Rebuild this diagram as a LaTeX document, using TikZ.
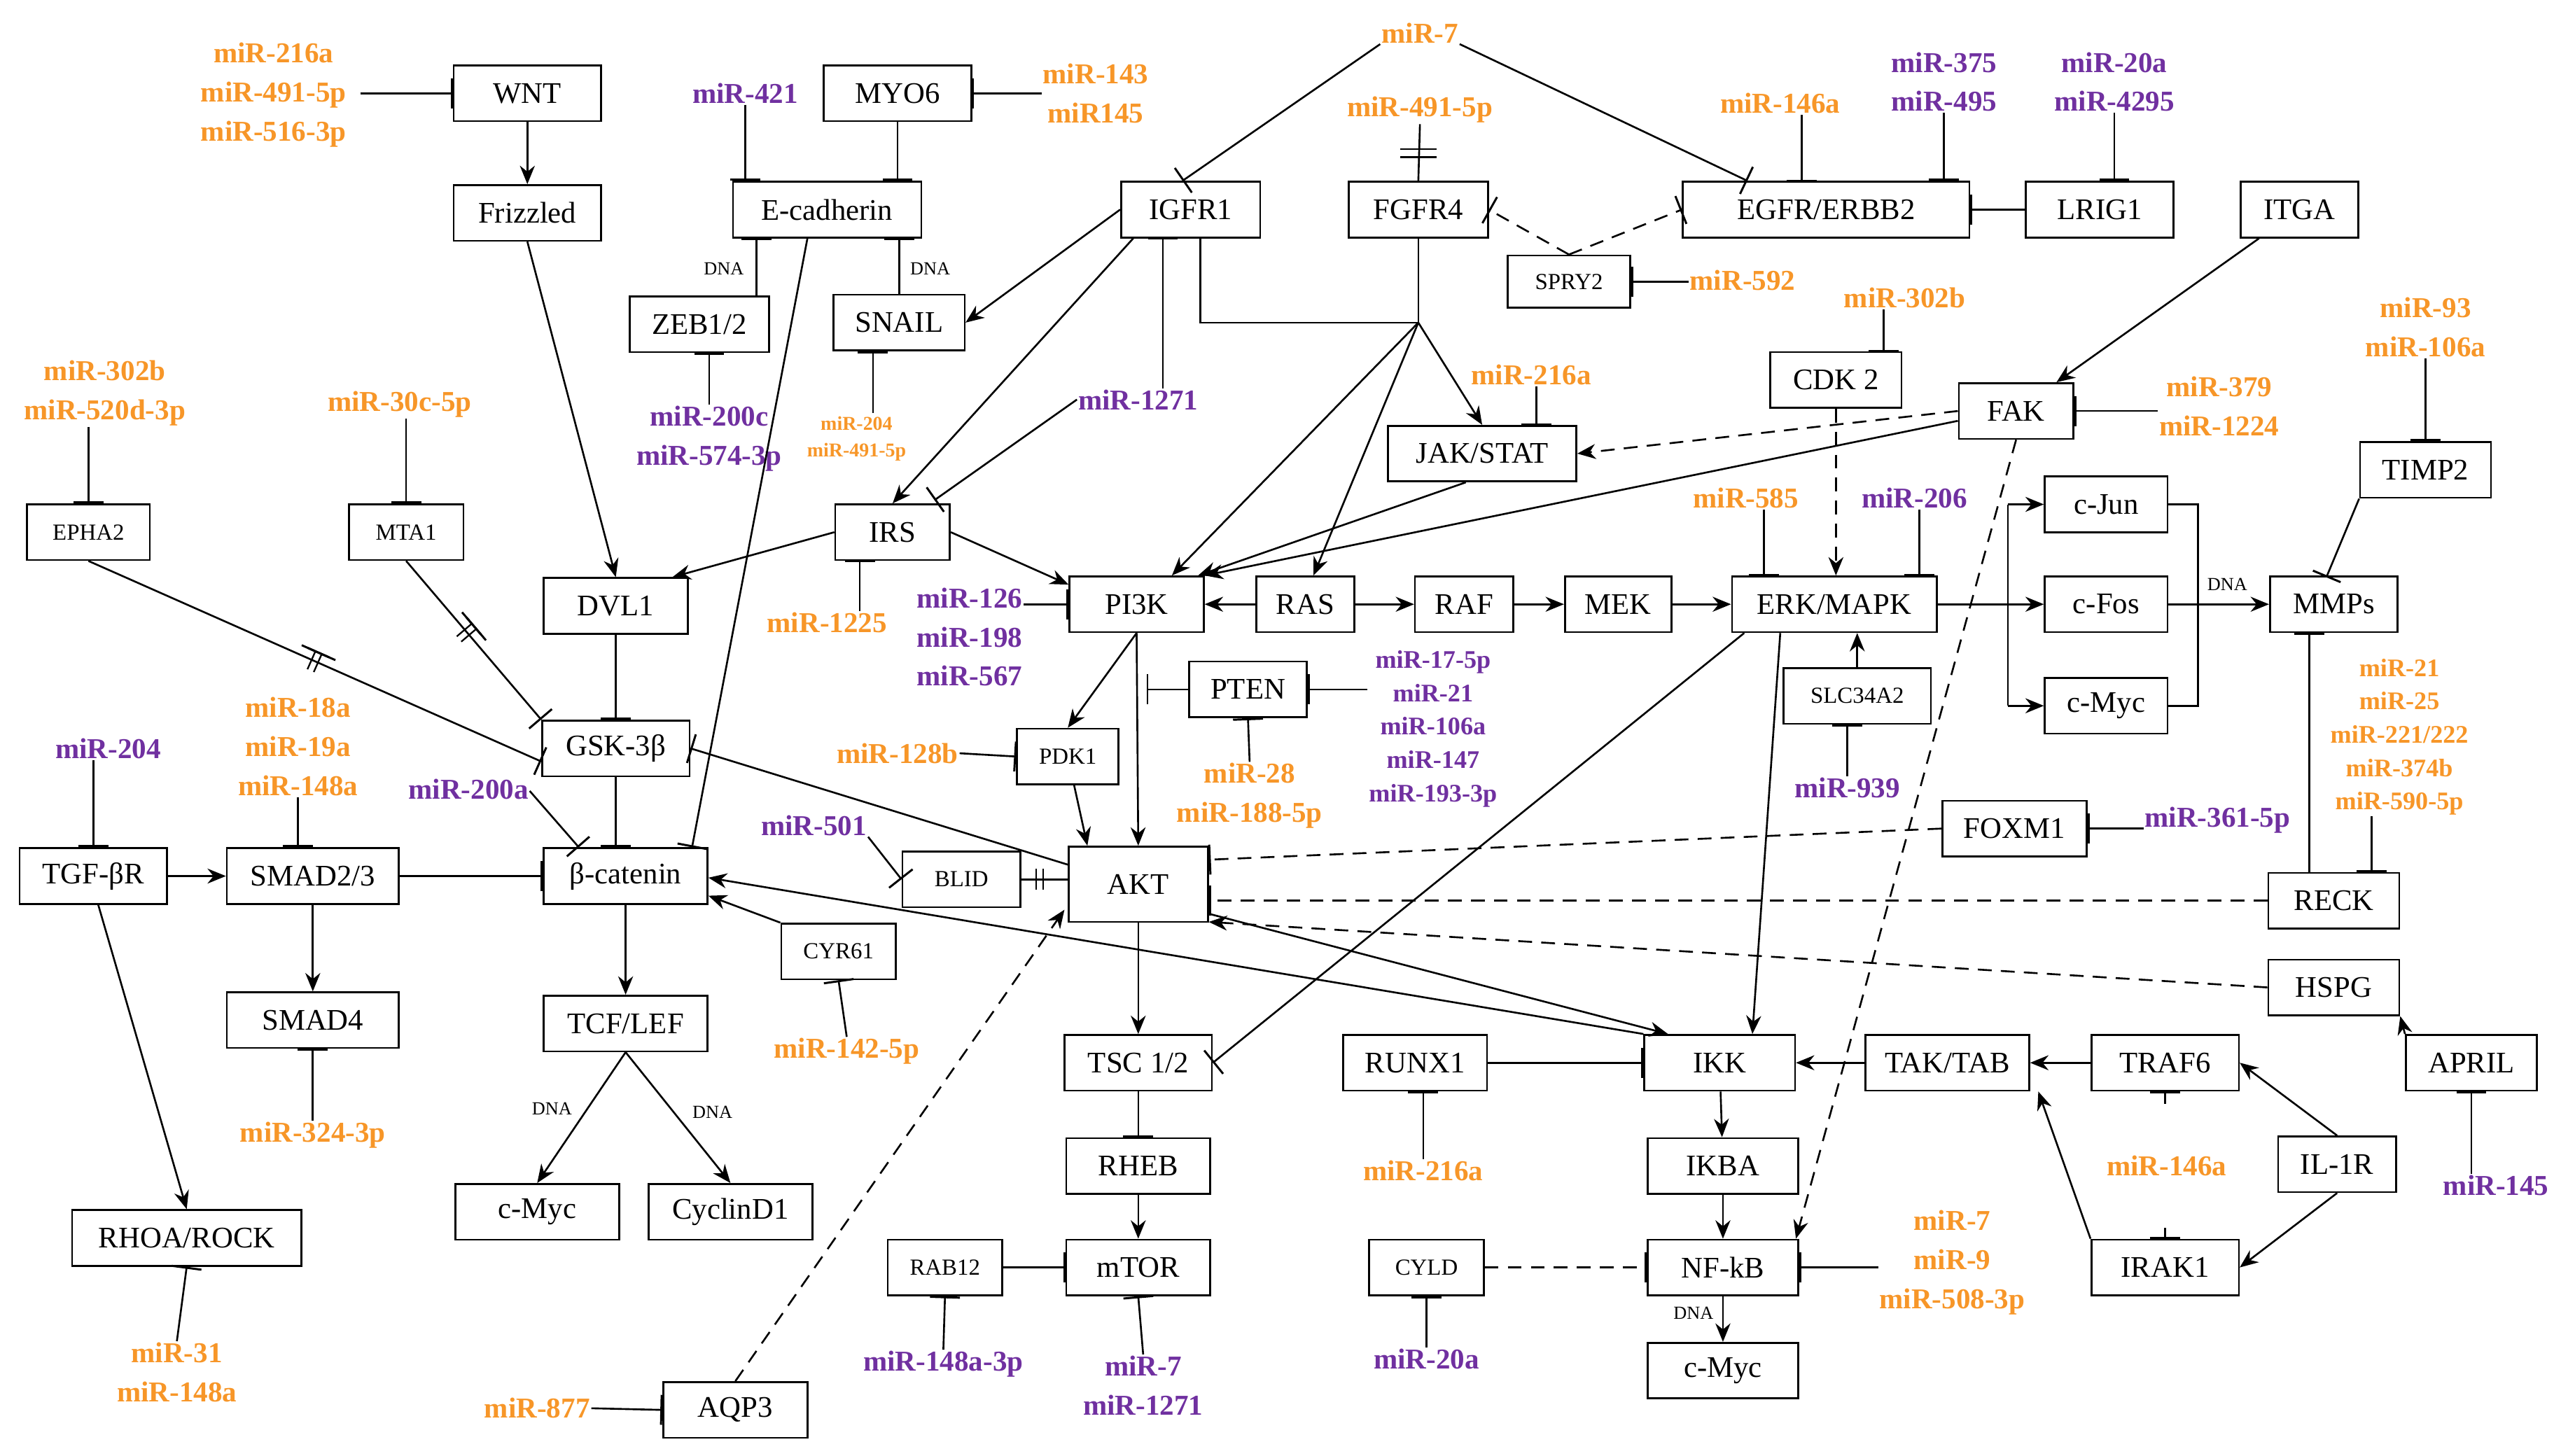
\documentclass[tikz,border=0pt]{standalone}
\usepackage{fontspec}
\setmainfont{Liberation Serif}
\usetikzlibrary{arrows.meta,calc,decorations.markings}
\definecolor{mirO}{RGB}{247,150,40}
\definecolor{mirP}{RGB}{112,48,160}
\tikzset{
 box/.style={draw, line width=1.6pt, fill=white, minimum height=1.7cm, inner sep=2pt, font=\fontsize{26}{30}\selectfont},
 sbox/.style={box, font=\fontsize{20}{24}\selectfont},
 w/.style={minimum width=#1*0.05cm},
 mo/.style={text=mirO, font=\bfseries\fontsize{25}{34}\selectfont, align=center, inner sep=1pt},
 mp/.style={mo, text=mirP},
 sm/.style={font=\bfseries\fontsize{22}{29}\selectfont},
 ln/.style={line width=1.6pt},
 ar/.style={ln, -{Stealth[length=16pt,width=13pt]}},
 inh/.style={ln, -{Bar[width=26pt,line width=1.8pt]}},
 dsh/.style={dash pattern=on 12pt off 8pt},
 dna/.style={font=\fontsize{16}{18}\selectfont, inner sep=1pt},
 dtick/.style={postaction={decorate}, decoration={markings, mark=at position #1 with {\draw[line width=1.4pt] (-3pt,-9pt)--(-3pt,9pt); \draw[line width=1.4pt] (3pt,-9pt)--(3pt,9pt);}}},
}
\begin{document}
\begin{tikzpicture}[x=0.05cm,y=-0.05cm]
\useasboundingbox (0,0) rectangle (1568,889);
% boxes
\node[box,w=90] (WNT) at (322,57) {WNT};
\node[box,w=90] (Friz) at (322,130) {Frizzled};
\node[box,w=90] (MYO6) at (548,57) {MYO6};
\node[box,w=115] (Ecad) at (505,128) {E-cadherin};
\node[box,w=85] (IGFR1) at (727,128) {IGFR1};
\node[box,w=85] (FGFR4) at (866,128) {FGFR4};
\node[box,w=175] (EGFR) at (1115,128) {EGFR/ERBB2};
\node[box,w=90] (LRIG1) at (1282,128) {LRIG1};
\node[box,w=72] (ITGA) at (1404,128) {ITGA};
\node[sbox,w=75,minimum height=1.6cm] (SPRY2) at (958,172) {SPRY2};
\node[box,w=85] (ZEB) at (427,198) {ZEB1/2};
\node[box,w=80] (SNAIL) at (549,197) {SNAIL};
\node[box,w=80] (CDK2) at (1121,232) {CDK 2};
\node[box,w=70] (FAK) at (1231,251) {FAK};
\node[box,w=115] (JAK) at (905,277) {JAK/STAT};
\node[box,w=80] (TIMP2) at (1481,287) {TIMP2};
\node[sbox,w=75] (EPHA2) at (54,325) {EPHA2};
\node[sbox,w=70] (MTA1) at (248,325) {MTA1};
\node[box,w=70] (IRS) at (545,325) {IRS};
\node[box,w=88] (DVL1) at (376,370) {DVL1};
\node[box,w=82] (PI3K) at (694,369) {PI3K};
\node[box,w=60] (RAS) at (797,369) {RAS};
\node[box,w=60] (RAF) at (894,369) {RAF};
\node[box,w=65] (MEK) at (988,369) {MEK};
\node[box,w=125] (ERK) at (1120,369) {ERK/MAPK};
\node[box,w=75] (cJun) at (1286,308) {c-Jun};
\node[box,w=75] (cFos) at (1286,369) {c-Fos};
\node[box,w=75] (cMyc1) at (1286,431) {c-Myc};
\node[box,w=78] (MMPs) at (1425,369) {MMPs};
\node[box,w=72] (PTEN) at (762,421) {PTEN};
\node[sbox,w=90] (SLC) at (1134,425) {SLC34A2};
\node[sbox,w=62] (PDK1) at (652,462) {PDK1};
\node[box,w=90] (GSK) at (376,457) {GSK-3β};
\node[box,w=88] (FOXM1) at (1230,506) {FOXM1};
\node[box,w=90] (TGFBR) at (57,535) {TGF-βR};
\node[box,w=105] (SMAD23) at (191,535) {SMAD2/3};
\node[box,w=100] (bcat) at (382,535) {β-catenin};
\node[sbox,w=72] (BLID) at (587,537) {BLID};
\node[box,w=85,minimum height=2.3cm] (AKT) at (695,540) {AKT};
\node[box,w=80] (RECK) at (1425,550) {RECK};
\node[sbox,w=70] (CYR61) at (512,581) {CYR61};
\node[box,w=80] (HSPG) at (1425,603) {HSPG};
\node[box,w=105] (SMAD4) at (191,623) {SMAD4};
\node[box,w=100] (TCF) at (382,625) {TCF/LEF};
\node[box,w=90] (TSC) at (695,649) {TSC 1/2};
\node[box,w=88] (RUNX1) at (864,649) {RUNX1};
\node[box,w=92] (IKK) at (1050,649) {IKK};
\node[box,w=100] (TAK) at (1189,649) {TAK/TAB};
\node[box,w=90] (TRAF6) at (1322,649) {TRAF6};
\node[box,w=80] (APRIL) at (1509,649) {APRIL};
\node[box,w=72] (IL1R) at (1427,711) {IL-1R};
\node[box,w=92] (IKBA) at (1052,712) {IKBA};
\node[box,w=88] (RHEB) at (695,712) {RHEB};
\node[box,w=100] (cMyc2) at (328,740) {c-Myc};
\node[box,w=100] (CycD1) at (446,740) {CyclinD1};
\node[box,w=140] (RHOA) at (114,756) {RHOA/ROCK};
\node[sbox,w=70] (RAB12) at (577,774) {RAB12};
\node[box,w=88] (mTOR) at (695,774) {mTOR};
\node[sbox,w=70] (CYLD) at (871,774) {CYLD};
\node[box,w=92] (NFkB) at (1052,774) {NF-kB};
\node[box,w=90] (IRAK1) at (1322,774) {IRAK1};
\node[box,w=92] (cMyc3) at (1052,837) {c-Myc};
\node[box,w=88] (AQP3) at (449,861) {AQP3};
% miRNA labels
\node[mo] (m1) at (167,58) {miR-216a\\miR-491-5p\\miR-516-3p};
\node[mp] (m421) at (455,57) {miR-421};
\node[mo] (m143) at (669,57) {miR-143\\miR145};
\node[mo] (m7a) at (867,20) {miR-7};
\node[mo] (m491) at (867,67) {miR-491-5p};
\node[mo] (m146a) at (1087,63) {miR-146a};
\node[mp] (m375) at (1187,50) {miR-375\\miR-495};
\node[mp] (m20a) at (1291,50) {miR-20a\\miR-4295};
\node[mo] (m592) at (1064,171) {miR-592};
\node[mo] (m302b) at (1163,182) {miR-302b};
\node[mo] (m93) at (1481,200) {miR-93\\miR-106a};
\node[mo] (m302c) at (64,240) {miR-302b\\miR-520d-3p};
\node[mo] (m30c) at (244,247) {miR-30c-5p};
\node[mp] (m200c) at (433,268) {miR-200c\\miR-574-3p};
\node[mo,font=\bfseries\fontsize{17}{23}\selectfont] (m204a) at (523,268) {miR-204\\miR-491-5p};
\node[mp] (m1271) at (695,244) {miR-1271};
\node[mo] (m216b) at (935,229) {miR-216a};
\node[mo] (m379) at (1355,248) {miR-379\\miR-1224};
\node[mo] (m585) at (1066,304) {miR-585};
\node[mp] (m206) at (1169,304) {miR-206};
\node[mo] (m1225) at (505,380) {miR-1225};
\node[mp] (m126) at (592,389) {miR-126\\miR-198\\miR-567};
\node[mp,sm] (m17) at (875,445) {miR-17-5p\\miR-21\\miR-106a\\miR-147\\miR-193-3p};
\node[mo] (m28) at (763,486) {miR-28\\miR-188-5p};
\node[mp] (m939) at (1128,481) {miR-939};
\node[mo,sm] (m21) at (1465,450) {miR-21\\miR-25\\miR-221/222\\miR-374b\\miR-590-5p};
\node[mo] (m128) at (548,460) {miR-128b};
\node[mp] (m204b) at (66,457) {miR-204};
\node[mo] (m18) at (182,456) {miR-18a\\miR-19a\\miR-148a};
\node[mp] (m200a) at (286,482) {miR-200a};
\node[mp] (m501) at (497,504) {miR-501};
\node[mp] (m361) at (1354,501) {miR-361-5p};
\node[mo] (m142) at (517,642) {miR-142-5p};
\node[mo] (m324) at (191,693) {miR-324-3p};
\node[mo] (m216c) at (869,715) {miR-216a};
\node[mo] (m146b) at (1323,712) {miR-146a};
\node[mp] (m145) at (1524,724) {miR-145};
\node[mo] (m7b) at (1192,771) {miR-7\\miR-9\\miR-508-3p};
\node[mo] (m31) at (108,838) {miR-31\\miR-148a};
\node[mp] (m148) at (576,833) {miR-148a-3p};
\node[mp] (m7c) at (698,846) {miR-7\\miR-1271};
\node[mp] (m20b) at (871,830) {miR-20a};
\node[mo] (m877) at (328,860) {miR-877};
% DNA labels
\node[dna] at (442,164) {DNA};
\node[dna] at (568,164) {DNA};
\node[dna] at (1360,357) {DNA};
\node[dna] at (337,677) {DNA};
\node[dna] at (435,679) {DNA};
\node[dna] at (1034,802) {DNA};
% coordinates
\coordinate (c1) at (220,57);
\coordinate (z1) at (462,181);
\coordinate (s1) at (533,252);
\coordinate (ig1) at (733,197);
\coordinate (hub) at (866,197);
\coordinate (j1) at (1226,308);
\coordinate (j2) at (1226,369);
\coordinate (j3) at (1226,431);
\coordinate (k1) at (1342,308);
\coordinate (k2) at (1342,369);
\coordinate (k3) at (1342,431);
\coordinate (pt) at (700,421);
\coordinate (r1) at (1410,533);
\coordinate (r2) at (1448,508);
\coordinate (a1) at (1322,674);
\coordinate (a2) at (1322,750);
% edges: top
\draw[inh] (c1) -- (WNT.west);
\draw[ar] (WNT) -- (Friz);
\draw[ar] (Friz.south) -- (DVL1.north);
\draw[inh] (m421.south) -- (m421.south |- Ecad.north);
\draw[inh] (MYO6.south) -- (MYO6.south |- Ecad.north);
\draw[inh] (m143.west |- MYO6.east) -- (MYO6.east);
\draw[inh] ($(Ecad.south)+(-12,0)$) -- ($(bcat.north east)+(-10,0)$);
\draw[inh] (z1) -- (z1 |- Ecad.south);
\draw[inh] (SNAIL.north) -- (SNAIL.north |- Ecad.south);
\draw[inh] (m200c.north) -- (m200c.north |- ZEB.south);
\draw[inh] (s1) -- (s1 |- SNAIL.south);
\draw[ar] (IGFR1.west) -- (SNAIL.east);
\draw[ar] ($(IGFR1.south west)+(8,0)$) -- (IRS.north);
\draw[inh] (m1271.north -| 710,0) -- (710,145);
\draw[inh] (m1271.west) -- ($(IRS.north east)+(-10,-2)$);
\draw[inh] (m7a.south west) -- ($(IGFR1.north)+(-5,0)$);
\draw[inh] (m7a.south east) -- ($(EGFR.north west)+(40,0)$);
\draw[ln] (m491.south) -- (866,111);
\draw[line width=1.6pt] (855,91) -- (877,91);
\draw[line width=1.6pt] (855,96) -- (877,96);
\draw[line width=1.8pt] (853,111) -- (879,111);
\draw[inh,dsh] (SPRY2.north) -- (FGFR4.east);
\draw[inh,dsh] (SPRY2.north) -- (EGFR.west);
\draw[inh] (m592.west |- SPRY2.east) -- (SPRY2.east);
\draw[inh] (m146a.south -| 1100,0) -- (1100,111);
\draw[inh] (m375.south) -- (m375.south |- EGFR.north);
\draw[inh] (LRIG1.west) -- (EGFR.east);
\draw[inh] (m20a.south) -- (m20a.south |- LRIG1.north);
\draw[ar] (ITGA) -- (FAK);
\draw[ln] (IGFR1.south -| ig1) -- (ig1) -- (hub);
\draw[ln] (FGFR4.south) -- (hub);
\draw[ar] (hub) -- ($(PI3K.north east)+(-20,0)$);
\draw[ar] (hub) -- ($(RAS.north)+(5,0)$);
\draw[ar] (hub) -- (JAK.north);
\draw[inh] (m216b.south -| 938,0) -- (938,260);
\draw[ar,dsh] (FAK.west) -- (JAK.east);
\draw[ar] ($(FAK.west)+(0,6)$) -- (PI3K.north east);
\draw[ar] ($(JAK.south)+(-10,0)$) -- ($(PI3K.north east)+(-4,0)$);
\draw[ar,dsh] (FAK.south) -- ($(NFkB.north east)+(-2,0)$);
\draw[inh] (m379.west |- FAK.east) -- (FAK.east);
\draw[inh] (m302b.south -| 1150,0) -- (1150,215);
\draw[ar,dsh] (CDK2.south) -- (ERK.north -| CDK2.south);
\draw[inh] (m585.south -| 1077,0) -- (1077,352);
\draw[inh] (m206.south -| 1172,0) -- (1172,352);
% middle
\draw[ar] (IRS.east) -- ($(PI3K.west)+(0,-12)$);
\draw[ar] (IRS.west) -- ($(DVL1.north east)+(-10,0)$);
\draw[inh] (m1225.north -| 525,0) -- (525,342);
\draw[ar] (RAS) -- (PI3K);
\draw[ar] (RAS) -- (RAF);
\draw[ar] (RAF) -- (MEK);
\draw[ar] (MEK) -- (ERK);
\draw[ln] (ERK.east) -- (j2);
\draw[ln] (j1) -- (j3);
\draw[ar] (j1) -- (cJun);
\draw[ar] (j2) -- (cFos);
\draw[ar] (j3) -- (cMyc1);
\draw[ln] (cJun.east) -- (k1) -- (k3) -- (cMyc1.east);
\draw[ln] (cFos.east) -- (k2);
\draw[ar] (k2) -- (MMPs.west);
\draw[inh] (m93.south) -- (TIMP2.north);
\draw[inh] (TIMP2.south west) -- ($(MMPs.south west)+(35,-34)$);
\draw[inh] (RECK.north -| r1) -- (r1 |- MMPs.south);
\draw[inh] (m21.south -| r2) -- (r2 |- RECK.north);
\draw[ar] (SLC.north) -- (SLC.north |- ERK.south);
\draw[inh] (m939.north) -- (m939.north |- SLC.south);
\draw[ar] ($(ERK.south)+(-33,0)$) -- ($(IKK.north)+(20,0)$);
\draw[inh] ($(ERK.south)+(-55,0)$) -- (TSC.east);
\draw[inh] (m126.east |- PI3K.west) -- (PI3K.west);
\draw[ar] (PI3K.south) -- (PDK1.north);
\draw[ar] (PI3K.south) -- (AKT.north);
\draw[inh] (PTEN.west) -- (pt);
\draw[inh] (m17.west |- PTEN.east) -- (PTEN.east);
\draw[inh] (m28.north) -- (PTEN.south);
\draw[inh] (m128.east) -- (PDK1.west);
\draw[ar] (PDK1) -- ($(AKT.north west)+(12,0)$);
\draw[inh] (DVL1.south) -- (GSK.north);
\draw[inh,dtick=0.45] (MTA1.south) -- (GSK.north west);
\draw[inh] (m302c.south -| EPHA2.north) -- (EPHA2.north);
\draw[inh,dtick=0.5] (EPHA2.south) -- ($(GSK.west)+(0,8)$);
\draw[inh] (m30c.south -| MTA1.north) -- (MTA1.north);
\draw[inh] ($(AKT.west)+(0,-12)$) -- (GSK.east);
\draw[inh] (GSK.south) -- (GSK.south |- bcat.north);
\draw[inh] (m18.south) -- (m18.south |- SMAD23.north);
\draw[inh] (m204b.south -| TGFBR.north) -- (TGFBR.north);
\draw[ar] (TGFBR) -- (SMAD23);
\draw[inh] (SMAD23) -- (bcat);
\draw[ar] (SMAD23) -- (SMAD4);
\draw[ar] ($(TGFBR.south)+(3,0)$) -- (RHOA.north);
\draw[inh] (m31.north) -- (RHOA.south);
\draw[inh] (m324.north) -- (SMAD4.south);
\draw[inh] ($(m200a.south east)+(0,-6)$) -- ($(bcat.north west)+(22,0)$);
\draw[ar] (bcat) -- (TCF);
\draw[ar] (TCF.south) -- (cMyc2.north);
\draw[ar] (TCF.south) -- (CycD1.north);
\draw[inh] (m501.south east) -- (BLID.west);
\draw[ln,dtick=0.4] (BLID.east) -- ($(AKT.west)+(0,-3)$);
\draw[ar] (CYR61.north west) -- ($(bcat.east)+(0,12)$);
\draw[inh] (m142.north) -- (CYR61.south);
\draw[ar] (IKK.north west) -- ($(bcat.east)+(0,1)$);
\draw[ar] ($(AKT.east)+(0,18)$) -- ($(IKK.north west)+(15,0)$);
\draw[inh,dsh] (FOXM1.west) -- ($(AKT.east)+(0,-15)$);
\draw[inh] (m361.west |- FOXM1.east) -- (FOXM1.east);
\draw[inh,dsh] (RECK.west) -- (AKT.east |- RECK.west);
\draw[ar,dsh] (HSPG.west) -- ($(AKT.east)+(0,23)$);
\draw[ar] (APRIL.north west) -- (HSPG.south east);
\draw[inh] (m145.north -| APRIL.south) -- (APRIL.south);
% bottom
\draw[ar] (AKT.south) -- (TSC.north);
\draw[inh] (TSC.south) -- (RHEB.north);
\draw[ar] (RHEB) -- (mTOR);
\draw[inh] (RAB12) -- (mTOR);
\draw[inh] (m148.north) -- (RAB12.south);
\draw[inh] (m7c.north) -- (mTOR.south);
\draw[ar,dsh] (AQP3.north) -- ($(AKT.south west)+(-2,-8)$);
\draw[inh] (m877.east) -- (AQP3.west);
\draw[inh] (RUNX1) -- (IKK);
\draw[inh] (m216c.north) -- (m216c.north |- RUNX1.south);
\draw[ar] (TAK) -- (IKK);
\draw[ar] (TRAF6) -- (TAK);
\draw[ar] (IL1R.north) -- (TRAF6.east);
\draw[ar] (IL1R.south) -- (IRAK1.east);
\draw[ar] (IRAK1.north west) -- ($(TAK.south east)+(5,0)$);
\draw[inh] (a1) -- (TRAF6.south);
\draw[inh] (a2) -- (IRAK1.north);
\draw[ar] (IKK) -- (IKBA);
\draw[ar] (IKBA) -- (NFkB);
\draw[inh,dsh] (CYLD) -- (NFkB);
\draw[inh] (m20b.north) -- (CYLD.south);
\draw[inh] (m7b.west |- NFkB.east) -- (NFkB.east);
\draw[ar] (NFkB) -- (cMyc3);
\end{tikzpicture}
\end{document}
